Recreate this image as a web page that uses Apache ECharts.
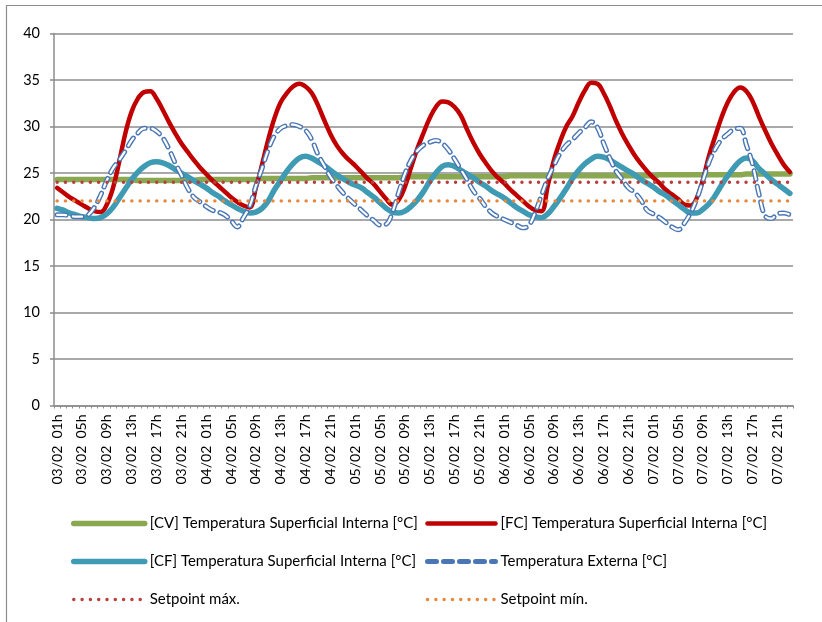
<!DOCTYPE html>
<html>
<head>
<meta charset="utf-8">
<script src="https://cdn.jsdelivr.net/npm/echarts@6/dist/echarts.min.js"></script>
<style>
html,body{margin:0;padding:0;background:#fff;}
#chart{width:822px;height:622px;}
</style>
</head>
<body>
<div id="chart"></div>
<script>
// ---- data ----
const days = ['03/02', '04/02', '05/02', '06/02', '07/02'];
const hours = ['01h','02h','03h','04h','05h','06h','07h','08h','09h','10h','11h','12h',
               '13h','14h','15h','16h','17h','18h','19h','20h','21h','22h','23h','24h'];
const yTicks = [0, 5, 10, 15, 20, 25, 30, 35, 40];

// hourly values, 03/02 01h ... 07/02 23h (119 points)
const cvSurface = [
 24.3,24.3,24.3,24.3,24.3,24.3,24.3,24.3,24.3,24.3,24.3,24.3,24.3,24.2,24.2,24.2,24.2,24.2,24.2,24.2,24.2,24.2,24.2,24.3,
 24.3,24.3,24.3,24.3,24.3,24.3,24.3,24.3,24.3,24.4,24.4,24.4,24.4,24.4,24.4,24.4,24.4,24.5,24.5,24.5,24.5,24.5,24.5,24.5,
 24.5,24.5,24.5,24.5,24.5,24.5,24.5,24.5,24.6,24.6,24.6,24.6,24.6,24.6,24.6,24.6,24.6,24.6,24.6,24.6,24.6,24.6,24.6,
 24.6,24.6,24.7,24.7,24.7,24.7,24.7,24.7,24.7,24.7,24.7,24.7,24.7,24.7,24.7,24.7,24.7,24.7,24.7,24.7,24.7,24.7,24.7,24.7,
 24.7,24.7,24.8,24.8,24.8,24.8,24.8,24.8,24.8,24.8,24.8,24.8,24.8,24.8,24.8,24.8,24.9,24.9,24.9,24.9,24.9,24.9,24.9,24.9
];
const fcSurface = [
 23.4,22.9,22.4,22.0,21.6,21.2,20.9,20.8,21.6,23.4,26.2,29.3,31.6,33.0,33.7,33.8,33.0,31.8,30.5,29.3,28.2,27.3,26.4,25.6,
 24.9,24.2,23.6,23.0,22.4,21.9,21.5,21.3,23.4,25.9,28.6,30.9,32.6,33.6,34.3,34.6,34.3,33.6,32.3,30.7,29.2,28.0,27.1,26.4,
 25.8,25.1,24.4,23.8,23.0,22.2,21.6,22.1,23.5,25.6,27.6,29.3,30.9,32.1,32.7,32.6,32.1,31.2,29.7,28.3,27.1,26.1,25.2,
 24.5,23.9,23.2,22.6,22.0,21.4,21.0,20.9,23.6,26.4,28.4,30.0,31.1,32.6,33.9,34.7,34.6,33.6,32.2,30.6,29.2,28.0,26.9,26.0,
 25.2,24.5,23.9,23.2,22.7,22.2,21.6,21.5,22.3,24.3,26.9,29.0,31.0,32.6,33.7,34.2,33.8,32.7,31.1,29.6,28.2,27.0,25.9,25.1
];
const cfSurface = [
 21.2,21.0,20.7,20.5,20.3,20.2,20.1,20.2,20.6,21.3,22.3,23.3,24.3,25.1,25.7,26.1,26.2,26.1,25.8,25.4,25.0,24.6,24.2,23.8,
 23.4,22.9,22.5,22.0,21.6,21.2,20.9,20.7,20.8,21.2,22.0,23.2,24.2,25.2,26.0,26.6,26.8,26.6,26.2,25.8,25.3,24.8,24.4,24.0,
 23.7,23.4,22.9,22.4,21.8,21.2,20.8,20.7,20.9,21.4,22.1,23.0,24.1,25.0,25.7,25.9,25.7,25.3,24.9,24.5,24.0,23.6,23.1,
 22.7,22.3,21.8,21.3,20.9,20.5,20.3,20.2,20.6,21.4,22.3,23.3,24.4,25.3,26.0,26.5,26.8,26.7,26.4,26.0,25.6,25.2,24.8,24.3,
 23.9,23.5,23.0,22.6,22.1,21.6,21.1,20.7,20.7,21.1,21.7,22.6,23.7,24.7,25.6,26.3,26.6,26.3,25.5,24.9,24.3,23.8,23.3,22.8
];
const extTemp = [
 20.5,20.5,20.4,20.3,20.3,20.5,21.3,22.6,24.2,25.5,26.4,27.4,28.5,29.3,29.8,29.8,29.5,28.8,27.6,26.1,24.8,23.4,22.4,21.9,
 21.4,21.0,20.8,20.5,19.9,19.2,20.2,21.4,23.6,25.5,27.5,29.0,29.8,30.1,30.2,30.0,29.6,28.6,27.0,25.8,24.6,23.7,22.9,22.2,
 21.6,21.0,20.4,19.9,19.4,19.5,20.8,22.9,24.9,26.4,27.4,28.0,28.3,28.5,28.2,27.5,26.5,25.4,24.3,23.1,22.3,21.4,20.7,
 20.3,20.0,19.7,19.4,19.1,19.4,20.8,22.6,24.4,25.8,27.1,28.0,28.6,29.3,29.9,30.5,29.9,28.2,26.6,25.2,24.3,23.4,22.9,22.1,
 21.0,20.6,20.2,19.7,19.2,18.9,19.6,20.7,22.2,24.2,26.2,27.6,28.6,29.2,29.7,29.8,28.0,25.9,22.8,20.4,20.1,20.6,20.7,20.5
];
const setpointMax = [
 24,24,24,24,24,24,24,24,24,24,24,24,24,24,24,24,24,24,24,24,24,24,24,24,
 24,24,24,24,24,24,24,24,24,24,24,24,24,24,24,24,24,24,24,24,24,24,24,24,
 24,24,24,24,24,24,24,24,24,24,24,24,24,24,24,24,24,24,24,24,24,24,24,
 24,24,24,24,24,24,24,24,24,24,24,24,24,24,24,24,24,24,24,24,24,24,24,24,
 24,24,24,24,24,24,24,24,24,24,24,24,24,24,24,24,24,24,24,24,24,24,24,24
];
const setpointMin = [
 22,22,22,22,22,22,22,22,22,22,22,22,22,22,22,22,22,22,22,22,22,22,22,22,
 22,22,22,22,22,22,22,22,22,22,22,22,22,22,22,22,22,22,22,22,22,22,22,22,
 22,22,22,22,22,22,22,22,22,22,22,22,22,22,22,22,22,22,22,22,22,22,22,
 22,22,22,22,22,22,22,22,22,22,22,22,22,22,22,22,22,22,22,22,22,22,22,22,
 22,22,22,22,22,22,22,22,22,22,22,22,22,22,22,22,22,22,22,22,22,22,22,22
];

const names = {
  cv: '[CV] Temperatura Superficial Interna [°C]',
  fc: '[FC] Temperatura Superficial Interna [°C]',
  cf: '[CF] Temperatura Superficial Interna [°C]',
  ext: 'Temperatura Externa [°C]',
  smax: 'Setpoint máx.',
  smin: 'Setpoint mín.'
};

// ---- chart ----
const categories = [];
days.forEach(d => hours.forEach(h => categories.push(d + '  ' + h)));
categories.length = fcSurface.length; // series end at 07/02 23h

const FONT = 'Lato, "Liberation Sans", Arial, sans-serif';
const GRID_COLOR = '#8c8c8c';

const chart = echarts.init(document.getElementById('chart'), null, {renderer: 'canvas'});

function lineSeries(name, data, color, width, extra) {
  return Object.assign({
    name: name,
    type: 'line',
    data: data,
    smooth: 0.4,
    symbol: 'none',
    showSymbol: false,
    animation: false,
    lineStyle: {color: color, width: width, cap: 'round', join: 'round'},
    itemStyle: {color: color}
  }, extra || {});
}

const legendCommon = {
  orient: 'vertical',
  top: 516,
  padding: 0,
  itemHeight: 14,
  itemGap: 23,
  itemStyle: {opacity: 0},
  lineStyle: {width: 'inherit'},
  textStyle: {fontFamily: FONT, fontSize: 15, color: '#000'}
};

const option = {
  animation: false,
  backgroundColor: '#ffffff',
  textStyle: {fontFamily: FONT},
  grid: {left: 54, right: 29, top: 33.5, bottom: 216.5, containLabel: false},
  graphic: [{
    type: 'polyline',
    silent: true,
    shape: {points: [[6.5, 622], [6.5, 5.5], [822, 5.5]]},
    style: {stroke: '#8c8c8c', lineWidth: 1.2, fill: null}
  }],
  legend: [
    Object.assign({}, legendCommon, {left: 71, itemWidth: 71, data: [names.cv, names.cf, names.smax]}),
    Object.assign({}, legendCommon, {left: 425, itemWidth: 68, data: [names.fc, names.ext, names.smin]})
  ],
  xAxis: {
    type: 'category',
    data: categories,
    boundaryGap: true,
    axisLine: {lineStyle: {color: GRID_COLOR, width: 1.5}},
    axisTick: {show: true, interval: 0, length: 3, alignWithLabel: false, lineStyle: {color: GRID_COLOR, width: 1}},
    axisLabel: {
      interval: 3,
      rotate: 90,
      margin: 9,
      fontFamily: FONT,
      fontSize: 14,
      color: '#000'
    },
    splitLine: {show: false}
  },
  yAxis: {
    type: 'value',
    min: yTicks[0],
    max: yTicks[yTicks.length - 1],
    interval: yTicks[1] - yTicks[0],
    axisLine: {show: true, lineStyle: {color: GRID_COLOR, width: 1.5}},
    axisTick: {show: true, length: 4, lineStyle: {color: GRID_COLOR, width: 1.5}},
    axisLabel: {margin: 14, fontFamily: FONT, fontSize: 14.5, color: '#000'},
    splitLine: {show: true, lineStyle: {color: GRID_COLOR, width: 1.5}}
  },
  series: [
    lineSeries(names.cv, cvSurface, '#8aa850', 5.5),
    lineSeries(names.fc, fcSurface, '#c00000', 4.5),
    lineSeries(names.cf, cfSurface, '#3f9ab3', 5.5),
    lineSeries(names.ext, extTemp, '#4a77b4', 5, {
      lineStyle: {color: '#4a77b4', width: 5, type: [9, 7], cap: 'round', join: 'round'}
    }),
    lineSeries('ext-inner', extTemp, '#ffffff', 2.2, {
      lineStyle: {color: '#ffffff', width: 2.2, type: [9, 7], cap: 'round', join: 'round'}
    }),
    lineSeries(names.smax, setpointMax, '#b5403e', 3.4, {
      smooth: false,
      lineStyle: {color: '#b5403e', width: 3.4, type: [0.1, 8.2], cap: 'round'}
    }),
    lineSeries(names.smin, setpointMin, '#e8873a', 3.4, {
      smooth: false,
      lineStyle: {color: '#e8873a', width: 3.4, type: [0.1, 8.2], cap: 'round'}
    })
  ]
};

chart.setOption(option);
</script>
</body>
</html>
